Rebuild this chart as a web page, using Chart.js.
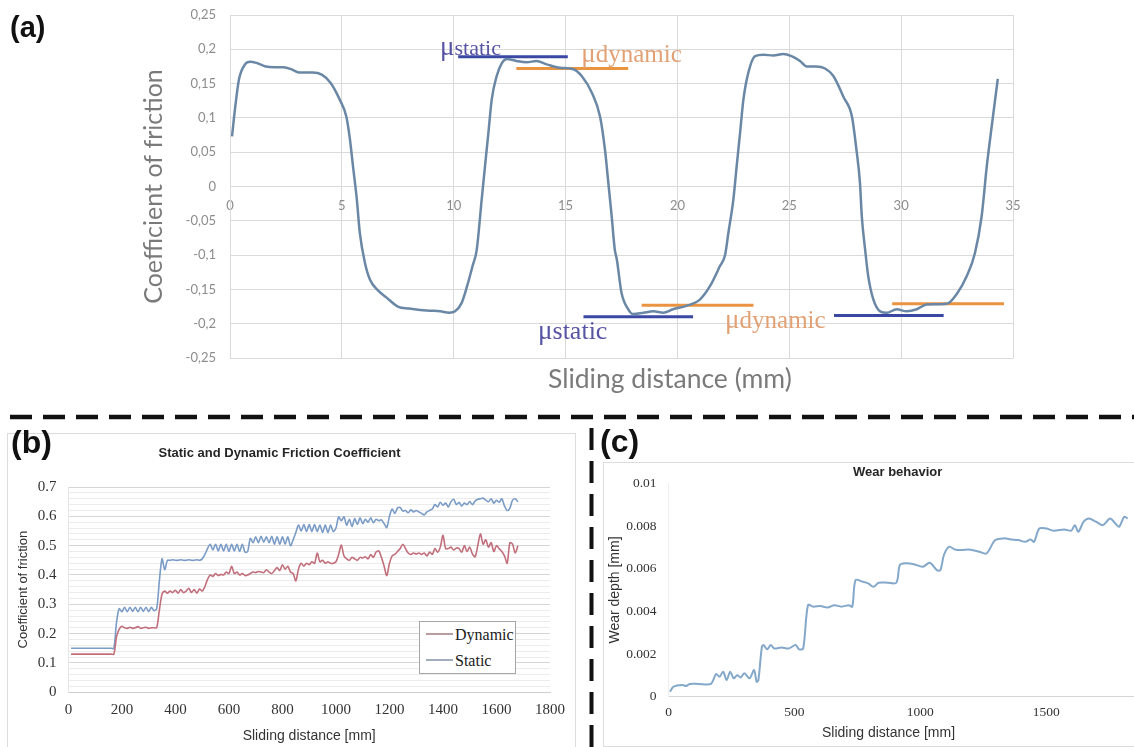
<!DOCTYPE html>
<html>
<head>
<meta charset="utf-8">
<title>Friction and wear</title>
<script src="https://cdn.jsdelivr.net/npm/chart.js@4.4.1/dist/chart.umd.min.js"></script>
<style>
  html, body { margin: 0; padding: 0; background: #fff; overflow: hidden; }
  #page { position: relative; width: 1134px; height: 747px; overflow: hidden; }
  canvas, .txt, .frame, svg, .legend { position: absolute; }
  .panel { font: bold 30px "Liberation Sans", Arial, sans-serif; color: #111; line-height: 1; }
  .frame { border: 1px solid #dcdcdc; background: #fff; }
  .legend { border: 1px solid #a6a6a6; background: #fff; font: 16px "Liberation Serif", serif; color: #1a1a1a; }
  .legend .row { height: 26px; line-height: 26px; white-space: nowrap; }
  .legend .sw { display: inline-block; width: 27px; height: 2px; margin: 0 2px 5px 6px; vertical-align: middle; }
</style>
</head>
<body>
<div id="page">
  <div class="frame" style="left:7px;top:433px;width:567px;height:330px"></div>
  <div class="frame" style="left:603px;top:462px;width:640px;height:283px"></div>

  <canvas id="chartA" width="1134" height="400" style="left:0;top:0"></canvas>
  <canvas id="chartB" width="566" height="313" style="left:8px;top:434px"></canvas>
  <canvas id="chartC" width="600" height="285" style="left:603px;top:462px"></canvas>

  <div class="txt" style="left:548px;top:362px;font:26.5px Lato, sans-serif;color:#7a7a7a;">Sliding distance (mm)</div>
  <div class="txt" style="left:853px;top:464px;font:bold 13px 'Liberation Sans', Arial, sans-serif;color:#262626;">Wear behavior</div>
  <div class="txt" style="left:822px;top:724px;font:14px 'Liberation Sans', Arial, sans-serif;color:#333;">Sliding distance [mm]</div>

  <div class="legend" style="left:419px;top:621px;width:95px;height:51px;">
    <div class="row"><span class="sw" style="background:#b89ca1"></span>Dynamic</div>
    <div class="row"><span class="sw" style="background:#a2aebb"></span>Static</div>
  </div>

  <svg width="1134" height="747" style="left:0;top:0;pointer-events:none">
    <line x1="10" y1="417" x2="1134" y2="417" stroke="#111" stroke-width="4.5" stroke-dasharray="22 11"/>
    <line x1="591.5" y1="428" x2="591.5" y2="747" stroke="#111" stroke-width="4" stroke-dasharray="22 11"/>
  </svg>

  <div class="txt panel" style="left:10px;top:13px;font-size:29px">(a)</div>
  <div class="txt panel" style="left:11px;top:426px;font-size:32px">(b)</div>
  <div class="txt panel" style="left:600px;top:425px;font-size:32px">(c)</div>
</div>

<script>
// ---- (a) coefficient of friction over one reciprocating cycle ----
const aDist = [0.09, 0.22, 0.4, 0.67, 0.9, 1.2, 1.6, 2.0, 2.4, 2.8,
  3.1, 3.7, 4.1, 4.5, 4.9, 5.2, 5.36, 5.5, 5.67, 5.8,
  6.03, 6.26, 6.57, 7.0, 7.5, 8.0, 8.5, 9.0, 9.4, 9.8,
  10.06, 10.35, 10.6, 10.85, 11.03, 11.25, 11.4, 11.55, 11.7, 11.92,
  12.15, 12.37, 12.8, 13.26, 13.7, 14.16, 14.75, 15.35, 15.72, 16.17,
  16.54, 16.76, 16.91, 17.06, 17.2, 17.29, 17.5, 17.8, 18.03, 18.48,
  18.92, 19.37, 19.8, 20.4, 21.0, 21.46, 21.9, 22.13, 22.28, 22.5,
  22.65, 22.8, 22.95, 23.17, 23.47, 23.84, 24.29, 24.73, 25.1, 25.48,
  25.78, 26.2, 26.6, 26.97, 27.43, 27.8, 28.0, 28.16, 28.24, 28.39,
  28.53, 28.76, 29.06, 29.36, 29.8, 30.25, 30.7, 31.14, 32.04, 32.48,
  32.93, 33.3, 33.6, 33.83, 34.05, 34.32];
const aCof = [0.073, 0.112, 0.156, 0.178, 0.182, 0.180, 0.175, 0.174, 0.174, 0.170,
  0.166, 0.166, 0.163, 0.151, 0.127, 0.102, 0.069, 0.029, -0.019, -0.067,
  -0.111, -0.136, -0.150, -0.162, -0.175, -0.178, -0.180, -0.181, -0.182, -0.184,
  -0.182, -0.170, -0.145, -0.115, -0.092, -0.019, 0.030, 0.078, 0.127, 0.161,
  0.180, 0.186, 0.183, 0.181, 0.183, 0.178, 0.173, 0.171, 0.161, 0.137,
  0.102, 0.054, 0.006, -0.043, -0.092, -0.106, -0.155, -0.179, -0.186, -0.184,
  -0.182, -0.184, -0.179, -0.174, -0.165, -0.145, -0.116, -0.100, -0.067, -0.019,
  0.030, 0.078, 0.127, 0.166, 0.190, 0.192, 0.191, 0.193, 0.190, 0.183,
  0.175, 0.175, 0.172, 0.161, 0.130, 0.102, 0.054, 0.005, -0.043, -0.092,
  -0.131, -0.165, -0.182, -0.184, -0.179, -0.182, -0.179, -0.172, -0.171, -0.157,
  -0.131, -0.097, -0.043, 0.030, 0.088, 0.157];

// static / dynamic levels marked on the curve: [xStart, xEnd, level]
const muStaticMarks = [[10.2, 15.1, 0.189], [15.8, 20.7, -0.190], [27.0, 31.9, -0.188]];
const muDynamicMarks = [[12.8, 17.8, 0.172], [18.4, 23.4, -0.173], [29.6, 34.6, -0.171]];

// ---- (b) static and dynamic friction coefficient ----
const bDist = [10, 20, 30, 40, 50, 60, 70, 80, 90, 100,
  110, 120, 130, 140, 150, 160, 170, 180, 190, 200,
  210, 220, 230, 240, 250, 260, 270, 280, 290, 300,
  310, 320, 330, 340, 350, 360, 370, 380, 390, 400,
  410, 420, 430, 440, 450, 460, 470, 480, 490, 500,
  510, 520, 530, 540, 550, 560, 570, 580, 590, 600,
  610, 620, 630, 640, 650, 660, 670, 680, 690, 700,
  710, 720, 730, 740, 750, 760, 770, 780, 790, 800,
  810, 820, 830, 840, 850, 860, 870, 880, 890, 900,
  910, 920, 930, 940, 950, 960, 970, 980, 990, 1000,
  1010, 1020, 1030, 1040, 1050, 1060, 1070, 1080, 1090, 1100,
  1110, 1120, 1130, 1140, 1150, 1160, 1170, 1180, 1190, 1200,
  1210, 1220, 1230, 1240, 1250, 1260, 1270, 1280, 1290, 1300,
  1310, 1320, 1330, 1340, 1350, 1360, 1370, 1380, 1390, 1400,
  1410, 1420, 1430, 1440, 1450, 1460, 1470, 1480, 1490, 1500,
  1510, 1520, 1530, 1540, 1550, 1560, 1570, 1580, 1590, 1600,
  1610, 1620, 1630, 1640, 1650, 1660, 1670, 1680];
const bStatic = [0.15, 0.15, 0.15, 0.15, 0.15, 0.15, 0.15, 0.15, 0.15, 0.15,
  0.15, 0.15, 0.15, 0.15, 0.15, 0.15, 0.15, 0.24, 0.285, 0.275,
  0.29, 0.275, 0.29, 0.276, 0.29, 0.275, 0.29, 0.276, 0.29, 0.275,
  0.29, 0.278, 0.285, 0.38, 0.455, 0.418, 0.45, 0.45, 0.452, 0.45,
  0.45, 0.452, 0.45, 0.45, 0.452, 0.45, 0.45, 0.452, 0.45, 0.455,
  0.47, 0.49, 0.505, 0.485, 0.505, 0.482, 0.505, 0.482, 0.505, 0.48,
  0.505, 0.482, 0.505, 0.48, 0.505, 0.478, 0.48, 0.525, 0.51, 0.53,
  0.51, 0.532, 0.512, 0.53, 0.51, 0.532, 0.505, 0.53, 0.505, 0.53,
  0.505, 0.53, 0.50, 0.52, 0.545, 0.57, 0.55, 0.572, 0.548, 0.572,
  0.548, 0.572, 0.548, 0.57, 0.545, 0.57, 0.545, 0.57, 0.548, 0.56,
  0.598, 0.585, 0.598, 0.57, 0.59, 0.565, 0.592, 0.572, 0.595, 0.575,
  0.59, 0.58, 0.595, 0.578, 0.59, 0.585, 0.588, 0.575, 0.562, 0.60,
  0.625, 0.61, 0.628, 0.63, 0.618, 0.62, 0.612, 0.622, 0.615, 0.62,
  0.615, 0.61, 0.605, 0.615, 0.62, 0.625, 0.64, 0.632, 0.648, 0.638,
  0.645, 0.632, 0.65, 0.658, 0.64, 0.648, 0.635, 0.645, 0.64, 0.65,
  0.64, 0.652, 0.658, 0.66, 0.662, 0.655, 0.65, 0.66, 0.645, 0.655,
  0.648, 0.66, 0.635, 0.62, 0.628, 0.655, 0.66, 0.65];
const bDynamic = [0.13, 0.13, 0.13, 0.13, 0.13, 0.13, 0.13, 0.13, 0.13, 0.13,
  0.13, 0.13, 0.13, 0.13, 0.13, 0.13, 0.13, 0.19, 0.215, 0.225,
  0.22, 0.218, 0.222, 0.218, 0.22, 0.224, 0.218, 0.22, 0.222, 0.218,
  0.22, 0.22, 0.22, 0.28, 0.335, 0.345, 0.338, 0.345, 0.34, 0.348,
  0.338, 0.35, 0.34, 0.345, 0.355, 0.34, 0.35, 0.338, 0.352, 0.345,
  0.36, 0.385, 0.40, 0.395, 0.405, 0.398, 0.402, 0.40, 0.41, 0.405,
  0.43, 0.405, 0.41, 0.40, 0.405, 0.398, 0.40, 0.405, 0.41, 0.408,
  0.412, 0.41, 0.408, 0.418, 0.41, 0.405, 0.415, 0.425, 0.415, 0.435,
  0.42, 0.43, 0.41, 0.405, 0.38, 0.42, 0.44, 0.43, 0.44, 0.435,
  0.445, 0.44, 0.475, 0.445, 0.45, 0.44, 0.445, 0.44, 0.44, 0.445,
  0.47, 0.502, 0.465, 0.455, 0.45, 0.46, 0.455, 0.45, 0.46, 0.458,
  0.462, 0.455, 0.47, 0.46, 0.478, 0.482, 0.46, 0.43, 0.398, 0.44,
  0.465, 0.47, 0.48, 0.49, 0.505, 0.49, 0.475, 0.47, 0.475, 0.472,
  0.475, 0.47, 0.475, 0.465, 0.478, 0.47, 0.49, 0.478, 0.495, 0.535,
  0.49, 0.49, 0.495, 0.485, 0.492, 0.49, 0.478, 0.50, 0.48, 0.495,
  0.472, 0.462, 0.50, 0.54, 0.505, 0.52, 0.495, 0.51, 0.48, 0.50,
  0.49, 0.48, 0.465, 0.44, 0.51, 0.505, 0.475, 0.50];

// ---- (c) wear depth ----
const cDist = [6, 20, 55, 70, 84, 120, 168, 189, 203, 217,
  231, 245, 259, 273, 287, 301, 322, 340, 350, 357,
  371, 378, 392, 406, 420, 449, 477, 505, 519, 535,
  554, 575, 603, 631, 659, 687, 716, 730, 743, 771,
  793, 814, 835, 870, 905, 919, 940, 975, 1010, 1038,
  1066, 1080, 1094, 1115, 1137, 1165, 1193, 1235, 1263, 1298,
  1333, 1361, 1389, 1417, 1438, 1452, 1473, 1501, 1530, 1572,
  1600, 1614, 1628, 1649, 1670, 1698, 1726, 1754, 1775, 1790,
  1810, 1824];
const cWear = [0.00023, 0.00047, 0.00055, 0.0005, 0.0006, 0.0006, 0.0006, 0.00106, 0.00094, 0.00117,
  0.00078, 0.00117, 0.00086, 0.00101, 0.0009, 0.0011, 0.00086, 0.00125, 0.0007, 0.00078,
  0.00234, 0.00242, 0.00222, 0.00242, 0.00226, 0.00231, 0.00226, 0.00242, 0.00222, 0.00226,
  0.00429, 0.00422, 0.00425, 0.00418, 0.00429, 0.00422, 0.00429, 0.00422, 0.00546, 0.00539,
  0.00531, 0.00515, 0.00534, 0.00534, 0.00534, 0.00617, 0.00625, 0.00621, 0.00609, 0.00628,
  0.00593, 0.00593, 0.00664, 0.00703, 0.0069, 0.00687, 0.0069, 0.00679, 0.00671, 0.00734,
  0.00742, 0.00737, 0.00734, 0.00726, 0.00737, 0.00726, 0.00788, 0.00788, 0.00778, 0.00784,
  0.00778, 0.00804, 0.00773, 0.0082, 0.00835, 0.0082, 0.00804, 0.00835, 0.00812, 0.00796,
  0.00843, 0.00835];

const xy = (xs, ys) => xs.map((x, i) => ({ x: x, y: ys[i] }));
const markLine = m => [{ x: m[0], y: m[2] }, { x: m[1], y: m[2] }];

Chart.defaults.animation = false;
Chart.defaults.responsive = false;
Chart.defaults.plugins.legend.display = false;
Chart.defaults.plugins.tooltip.enabled = false;

const serif = '"Liberation Serif", "Times New Roman", serif';
const sans = '"Liberation Sans", Arial, sans-serif';

// mu labels for (a), anchored in data units
const muLabels = [
  { x: 9.39, y: 0.192, sub: 'static', size: 22, color: '#5753a5' },
  { x: 15.7, y: 0.182, sub: 'dynamic', size: 25, color: '#e2a174' },
  { x: 13.77, y: -0.223, sub: 'static', size: 26, color: '#5753a5' },
  { x: 22.13, y: -0.206, sub: 'dynamic', size: 25, color: '#e2a174' }
];
const muPlugin = {
  id: 'muLabels',
  afterDatasetsDraw(chart) {
    const { ctx, scales: { x, y } } = chart;
    ctx.save();
    ctx.textBaseline = 'alphabetic';
    muLabels.forEach(l => {
      const px = x.getPixelForValue(l.x);
      const py = y.getPixelForValue(l.y);
      ctx.fillStyle = l.color;
      ctx.font = '27px ' + serif;
      ctx.fillText('\u03bc', px, py);
      const w = ctx.measureText('\u03bc').width;
      ctx.font = l.size + 'px ' + serif;
      ctx.fillText(l.sub, px + w, py);
    });
    ctx.restore();
  }
};

const commaNum = v => String(Math.round(v * 100) / 100).replace('.', ',');
const isTenth = v => Math.abs(v * 10 - Math.round(v * 10)) < 1e-6;

// (a)
new Chart(document.getElementById('chartA'), {
  type: 'line',
  data: {
    datasets: [
      { data: xy(aDist, aCof), borderColor: '#6a88a6', borderWidth: 2.5, pointRadius: 0, cubicInterpolationMode: 'monotone' }
    ].concat(muStaticMarks.map(m => ({ data: markLine(m), borderColor: '#3b48a3', borderWidth: 3, pointRadius: 0 })))
     .concat(muDynamicMarks.map(m => ({ data: markLine(m), borderColor: '#ea9340', borderWidth: 3, pointRadius: 0 })))
  },
  options: {
    layout: { padding: { left: 136, right: 121, top: 15, bottom: 42 } },
    scales: {
      x: {
        type: 'linear', position: { y: 0 }, min: 0, max: 35,
        ticks: { stepSize: 5, padding: 12, color: '#8c8c8c', font: { family: 'Lato', size: 13 }, maxRotation: 0 },
        grid: { color: '#dadada', drawTicks: false },
        border: { color: '#dadada' }
      },
      y: {
        min: -0.25, max: 0.25,
        ticks: { stepSize: 0.05, padding: 14, color: '#8c8c8c', font: { family: 'Lato', size: 13 }, callback: commaNum },
        grid: { color: '#dadada', drawTicks: false },
        border: { color: '#dadada' },
        title: { display: true, text: 'Coefficient of friction', color: '#7a7a7a', font: { family: 'Lato', size: 25 }, padding: { top: 3 } },
        afterFit: s => { s.width = 94; s.paddingTop = 8; s.paddingBottom = 8; }
      }
    }
  },
  plugins: [muPlugin]
});

// (b)
new Chart(document.getElementById('chartB'), {
  type: 'line',
  data: {
    datasets: [
      { label: 'Dynamic', data: xy(bDist, bDynamic), borderColor: '#c26f7c', borderWidth: 1.6, pointRadius: 0, tension: 0.3 },
      { label: 'Static', data: xy(bDist, bStatic), borderColor: '#7a9cc6', borderWidth: 1.6, pointRadius: 0, tension: 0.3 }
    ]
  },
  options: {
    layout: { padding: { left: 0, right: 23, top: 0, bottom: 0 } },
    plugins: {
      title: { display: true, text: 'Static and Dynamic Friction Coefficient', color: '#262626', font: { family: sans, size: 13, weight: 'bold' }, padding: { top: 12, bottom: 25.4 } }
    },
    scales: {
      x: {
        type: 'linear', min: 0, max: 1800,
        ticks: { stepSize: 200, padding: 9, color: '#333', font: { family: serif, size: 15 }, maxRotation: 0, callback: v => String(v) },
        grid: { display: false, drawTicks: false },
        border: { color: '#cfcfcf' },
        title: { display: true, text: 'Sliding distance [mm]', color: '#333', font: { family: sans, size: 14 }, padding: { bottom: 2 } },
        afterFit: s => { s.height = 54.7; }
      },
      y: {
        min: 0, max: 0.7,
        ticks: {
          stepSize: 0.02, autoSkip: false, padding: 12, color: '#333', font: { family: serif, size: 15 },
          callback: v => (isTenth(v) ? String(Math.round(v * 10) / 10) : '')
        },
        grid: {
          drawTicks: false,
          color: c => (isTenth(c.tick.value) ? '#d6d6d6' : '#ececec')
        },
        border: { color: '#e6e6e6' },
        title: { display: true, text: 'Coefficient of friction', color: '#333', font: { family: sans, size: 13 }, padding: { top: 8 } },
        afterFit: s => { s.width = 60.4; }
      }
    }
  }
});

// (c)
new Chart(document.getElementById('chartC'), {
  type: 'line',
  data: {
    datasets: [
      { label: 'Wear depth', data: xy(cDist, cWear), borderColor: '#84a8ca', borderWidth: 2, pointRadius: 0, tension: 0.3 }
    ]
  },
  options: {
    layout: { padding: { left: 0, right: 31, top: 21.3, bottom: 0 } },
    scales: {
      x: {
        type: 'linear', min: 0, max: 2000,
        ticks: { stepSize: 500, padding: 8, color: '#333', font: { family: serif, size: 13.5 }, maxRotation: 0, callback: v => String(v) },
        grid: { display: false, drawTicks: false },
        border: { color: '#d4d4d4' },
        afterFit: s => { s.height = 50.3; }
      },
      y: {
        min: 0, max: 0.01,
        ticks: { stepSize: 0.002, padding: 12, color: '#333', font: { family: serif, size: 13.5 }, callback: v => String(Math.round(v * 1000) / 1000) },
        grid: { display: false, drawTicks: false },
        border: { color: '#eeeeee' },
        title: { display: true, text: 'Wear depth [mm]', color: '#333', font: { family: sans, size: 14 }, padding: { top: 4 } },
        afterFit: s => { s.width = 65.5; }
      }
    }
  }
});
</script>
</body>
</html>
